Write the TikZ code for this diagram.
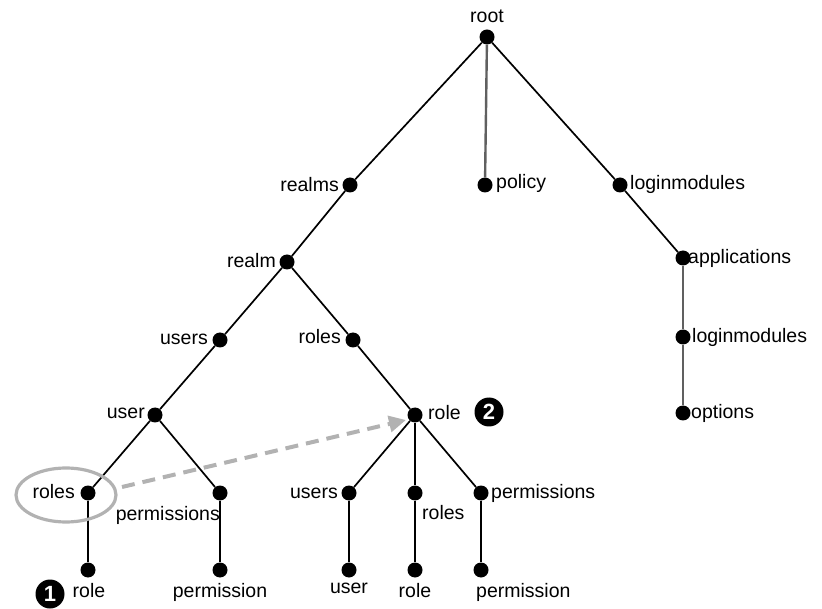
\documentclass[tikz,border=0pt]{standalone}
\usepackage{fontspec}
\setmainfont{Liberation Sans}
\usetikzlibrary{arrows.meta}
\begin{document}
\begin{tikzpicture}[x=1pt,y=-1pt,
  dot/.style={circle,fill=black,inner sep=0pt,minimum size=15pt},
  lbl/.style={font=\fontsize{19.5}{21}\selectfont,inner sep=2pt},
  edge/.style={line width=1.7pt,black},
  gedge/.style={line width=2.4pt,gray!75!black},
  marker/.style={circle,fill=black,text=white,inner sep=0pt,minimum size=29pt,font=\fontsize{22}{24}\selectfont\bfseries}]
\useasboundingbox (0,0) rectangle (822,609);
% dots
\node[dot] (root) at (487,37) {};
\node[dot] (realms) at (350,185) {};
\node[dot] (policy) at (485,185) {};
\node[dot] (lm) at (620,185) {};
\node[dot] (realm) at (287,262) {};
\node[dot] (apps) at (683,258) {};
\node[dot] (lm2) at (683,337) {};
\node[dot] (opts) at (683,413) {};
\node[dot] (users) at (220,340) {};
\node[dot] (roles) at (353,340) {};
\node[dot] (user) at (155,415) {};
\node[dot] (role) at (415,415) {};
\node[dot] (uroles) at (88,493) {};
\node[dot] (uperms) at (220,493) {};
\node[dot] (rusers) at (349,493) {};
\node[dot] (rroles) at (415,493) {};
\node[dot] (rperms) at (481,493) {};
\node[dot] (urole) at (88,570) {};
\node[dot] (uperm) at (220,570) {};
\node[dot] (ruser) at (349,570) {};
\node[dot] (rrole) at (415,570) {};
\node[dot] (rperm) at (481,570) {};
% labels
\node[lbl,anchor=south] (t-root) at (487,25) {root};
\node[lbl,anchor=east] (t-realms) at (341,185) {realms};
\node[lbl,anchor=west] (t-policy) at (494,183) {policy};
\node[lbl,anchor=west] (t-lm) at (628,184) {loginmodules};
\node[lbl,anchor=east] (t-realm) at (278,261) {realm};
\node[lbl,anchor=west] (t-apps) at (686,258) {applications};
\node[lbl,anchor=west] (t-lm2) at (690,337) {loginmodules};
\node[lbl,anchor=west] (t-opts) at (689,413) {options};
\node[lbl,anchor=east] (t-users) at (210,339) {users};
\node[lbl,anchor=east] (t-roles) at (343,337) {roles};
\node[lbl,anchor=east] (t-user) at (147,413) {user};
\node[lbl,anchor=west] (t-role) at (426,413) {role};
\node[lbl,anchor=east] (t-uroles) at (77,492) {roles};
\node[lbl,anchor=north east] (t-uperms) at (222,504) {permissions};
\node[lbl,anchor=east] (t-rusers) at (340,493) {users};
\node[lbl,anchor=north west] (t-rroles) at (420,503) {roles};
\node[lbl,anchor=west] (t-rperms) at (489,493) {permissions};
\node[lbl,anchor=north] (t-urole) at (89,581) {role};
\node[lbl,anchor=north] (t-uperm) at (220,581) {permission};
\node[lbl,anchor=north] (t-ruser) at (349,581) {user};
\node[lbl,anchor=north] (t-rrole) at (415,581) {role};
\node[lbl,anchor=north west] (t-rperm) at (474,581) {permission};
% markers
\node[marker] (m1) at (50,594) {1};
\node[marker] (m2) at (489,412) {2};
% edges
\draw[edge] (root) -- (realms);
\draw[gedge] (root) -- (policy);
\draw[edge] (root) -- (lm);
\draw[edge] (realms) -- (realm);
\draw[edge] (lm) -- (apps);
\draw[gedge] (apps) -- (lm2);
\draw[gedge] (lm2) -- (opts);
\draw[edge] (realm) -- (users);
\draw[edge] (realm) -- (roles);
\draw[edge] (users) -- (user);
\draw[edge] (roles) -- (role);
\draw[edge] (user) -- (uroles);
\draw[edge] (user) -- (uperms);
\draw[edge] (role) -- (rusers);
\draw[edge] (role) -- (rroles);
\draw[edge] (role) -- (rperms);
\draw[edge] (uroles) -- (urole);
\draw[edge] (uperms) -- (uperm);
\draw[edge] (rusers) -- (ruser);
\draw[edge] (rroles) -- (rrole);
\draw[edge] (rperms) -- (rperm);
% highlight ellipse
\draw[gray!60,line width=3.2pt] (66,495) ellipse [x radius=50pt, y radius=27pt];
\coordinate (astart) at (122,487);
\coordinate (aend) at (406,420);
\draw[gray!60,line width=4pt,dash pattern=on 13pt off 8pt,-{Triangle[length=17pt,width=16pt]}] (astart) -- (aend);
\end{tikzpicture}
\end{document}
